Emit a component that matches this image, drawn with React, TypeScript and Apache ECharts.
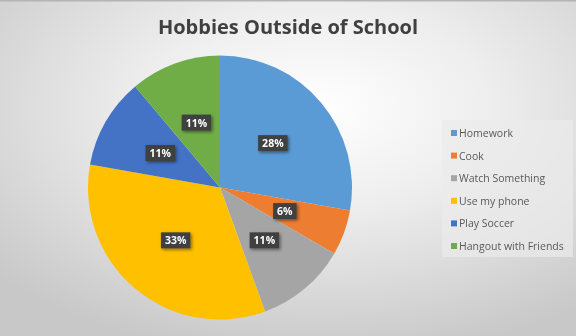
import React, { useEffect, useRef } from "react";
import * as echarts from "echarts";

const titleText = "Hobbies Outside of School";
const categories = ["Homework", "Cook", "Watch Something", "Use my phone", "Play Soccer", "Hangout with Friends"];
const counts = [5, 1, 2, 6, 2, 2];
const colors = ["#5B9BD5", "#ED7D31", "#A5A5A5", "#FFC000", "#4472C4", "#70AD47"];

export default function App() {
  const ref = useRef<HTMLDivElement>(null);
  useEffect(() => {
    if (!ref.current) return;
    const chart = echarts.init(ref.current, null, { renderer: "svg" });
    chart.setOption({
      animation: false,
      graphic: [
        {
          type: "rect",
          z: -10,
          silent: true,
          shape: { x: 0, y: 0, width: 576, height: 336 },
          style: {
            fill: new echarts.graphic.RadialGradient(0.55, 0.32, 0.75, [
              { offset: 0, color: "#ffffff" },
              { offset: 0.4, color: "#eeeeee" },
              { offset: 1, color: "#c8c8c8" },
            ]),
          },
        },
        {
          type: "rect",
          z: -9,
          silent: true,
          shape: { x: 0, y: 0, width: 576, height: 1.5 },
          style: { fill: "#b4b4b4" },
        },
        {
          type: "rect",
          z: -8,
          silent: true,
          shape: { x: 442, y: 120, width: 131, height: 137 },
          style: { fill: "rgba(235,235,235,0.7)" },
        },
      ],
      title: {
        text: titleText,
        left: "center",
        top: 11,
        textStyle: {
          fontFamily: "Open Sans",
          fontWeight: "bold",
          fontSize: 20,
          color: "#404040",
        },
      },
      legend: {
        orient: "vertical",
        left: 446,
        top: 122.5,
        itemWidth: 6,
        itemHeight: 6,
        itemGap: 11.6,
        icon: "rect",
        data: categories,
        textStyle: {
          fontFamily: "Open Sans",
          fontSize: 10.5,
          color: "#595959",
          padding: [0, 0, 0, -3],
        },
      },
      series: [
        {
          type: "pie",
          center: [220, 187.5],
          radius: 132,
          startAngle: 90,
          clockwise: true,
          avoidLabelOverlap: false,
          data: categories.map((name, i) => ({
            name,
            value: counts[i],
            itemStyle: { color: colors[i] },
          })),
          label: {
            show: true,
            position: "inside",
            formatter: (p: any) => Math.round(p.percent) + "%",
            fontFamily: "Open Sans",
            fontWeight: "bold",
            fontSize: 10.5,
            color: "#ffffff",
            backgroundColor: "#404040",
            padding: [3, 4, 2, 4],
            shadowColor: "rgba(0,0,0,0.45)",
            shadowBlur: 3,
            shadowOffsetX: 1.5,
            shadowOffsetY: 1.5,
          },
          labelLine: { show: false },
          emphasis: { disabled: true },
        },
      ],
    });
    return () => chart.dispose();
  }, []);
  return (
    <div
      ref={ref}
      style={{ position: "fixed", left: 0, top: 0, width: 576, height: 336 }}
    />
  );
}
